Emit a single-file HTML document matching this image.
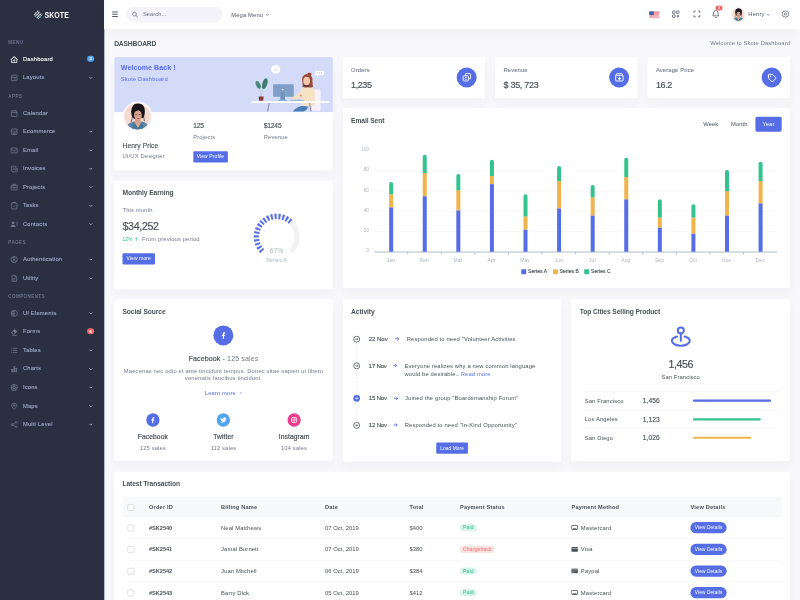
<!DOCTYPE html>
<html lang="en">
<head>
<meta charset="utf-8">
<title>Dashboard | Skote</title>
<style>
*{box-sizing:border-box}
html,body{margin:0;padding:0}
body{width:800px;height:600px;overflow:hidden;background:#f8f8fb;font-family:"Liberation Sans",sans-serif}
#root{position:absolute;left:-10px;top:-10px;width:1968px;height:1488px;transform:scale(0.4166667);transform-origin:0 0;overflow:hidden;background:#f8f8fb;filter:blur(.7px);
 font-family:"Liberation Sans",sans-serif;font-size:14px;letter-spacing:.3px;line-height:19.5px;color:#495057}
#page{position:absolute;left:24px;top:24px;width:1920px;height:1440px}
.bleed{position:absolute}
h4,h5,h3,p,ul,ol{margin:0;padding:0}
ul{list-style:none}
svg{display:block}
/* sidebar */
#side{position:absolute;left:0;top:0;width:250px;height:1440px;background:#2a3042}
#logo{position:absolute;left:0;top:0;width:250px;height:70px}
#menu{position:absolute;left:0;top:80px;width:250px}
.mt{padding:12.500px 20px 11.500px;height:40.5px;font-size:11px;line-height:16.5px;letter-spacing:.9px;color:#6a7187;font-weight:bold;text-transform:uppercase}
.mi{position:relative;height:44.420px;padding:10px 24px;color:#a6b0cf;font-size:14px;line-height:24.5px;white-space:nowrap}
.mi svg{position:absolute;left:24px;top:12px;width:20px;height:20px;fill:#6a7187}
.mi span.t{position:absolute;left:55px;top:8.5px;letter-spacing:.4px;-webkit-text-stroke:.2px currentColor}
.mi.act{color:#fff}
.mi.act svg{fill:#fff}
.mi .arr{position:absolute;left:211px;top:18px;width:10px;height:8px;fill:none;stroke:#a6b0cf;stroke-width:2.1}
.mi .bdg{position:absolute;right:24px;top:13px;height:14.6px;border-radius:10px;padding:0 6px;font-size:9.75px;line-height:14.6px;color:#fff;font-weight:bold;letter-spacing:0}
/* topbar */
#top{position:absolute;left:250px;top:0;width:1670px;height:70px;background:#fff;box-shadow:0 12px 24px rgba(18,38,63,.03)}
#top .abs{position:absolute}
/* content */
.card{position:absolute;background:#fff;border-radius:4px;box-shadow:0 12px 24px rgba(18,38,63,.03)}
.ct{position:absolute;font-size:16px;font-weight:bold;line-height:18px;color:#495057;letter-spacing:-.2px;margin-top:-.5px;white-space:nowrap}
.a{position:absolute;white-space:nowrap}
.mut{color:#74788d}
.h5{font-size:16px;line-height:18px;color:#495057;letter-spacing:.2px}
.btn{position:absolute;background:#556ee6;color:#fff;border-radius:3px;font-size:12px;line-height:17px;padding:5px 8px;letter-spacing:.25px;white-space:nowrap;text-align:center}
.pri{color:#556ee6}
.med{-webkit-text-stroke:.3px currentColor}
.med2{-webkit-text-stroke:.45px currentColor}
</style>
</head>
<body>
<div id="root">
<div id="page">
<div class="bleed" style="left:-24px;top:-24px;width:274px;height:1488px;background:#2a3042"></div>
<div class="bleed" style="left:250px;top:-24px;width:1694px;height:94px;background:#fff"></div>
<!-- SIDEBAR -->
<div id="side">
<div id="logo">
<svg class="a" style="left:80px;top:24px" width="23" height="23" viewBox="0 0 23 23"><defs><clipPath id="lgc"><path d="M11.500 .8 22.200 11.500 11.500 22.200 .8 11.500z"/></clipPath></defs><g clip-path="url(#lgc)"><g stroke="#fff" stroke-width="2.400"><path d="M-2 9 9-2M-2 15.500 15.500-2M1 19 19 1M4.500 22.500 22.500 4.500M8 25 25 8M14 25 25 14"/></g><g stroke="#2a3042" stroke-width="1.300"><path d="M5 3l15 15M1.500 6.500l15 15M9 0l15 15M-2 10l12 12"/></g></g><circle cx="5.500" cy="5.800" r="1.300" fill="#3bb6c4"/><circle cx="17.500" cy="17.200" r="1.300" fill="#3bb6c4"/><circle cx="3.500" cy="15" r="1.100" fill="#3bb6c4"/></svg>
<div class="a" style="left:107px;top:22px;font-size:21.5px;line-height:26px;font-weight:bold;color:#fff;letter-spacing:.2px;transform:scaleX(.775);transform-origin:0 0">SKOTE</div>
</div>
<div id="menu">
<div class="mt">Menu</div>
<div class="mi act"><svg viewBox="0 0 24 24" style="color:#fff"><g fill="none" stroke="currentColor" stroke-width="2.250" stroke-linejoin="round"><path d="M4.5 11.5 12 4l7.5 7.5V20.5h-15z"/><path d="M2.5 12.5 12 3l9.5 9.5"/><circle cx="12" cy="14.5" r="2.2"/></g></svg><span class="t">Dashboard</span><span class="bdg" style="background:#50a5f1">3</span></div>
<div class="mi "><svg viewBox="0 0 24 24" style="color:#70778e"><g fill="none" stroke="currentColor" stroke-width="2.250"><rect x="4" y="4" width="16" height="16" rx="1.5"/><path d="M4 10h16M14 10v10"/></g></svg><span class="t">Layouts</span><svg class="arr" viewBox="0 0 10 8" style="left:213px;top:18px;width:10px;height:8px;fill:none"><path d="M1.500 2l3.500 3.500L8.500 2"/></svg></div>
<div class="mt">Apps</div>
<div class="mi "><svg viewBox="0 0 24 24" style="color:#70778e"><g fill="none" stroke="currentColor" stroke-width="2.250"><rect x="4" y="5" width="16" height="16" rx="1.5"/><path d="M4 9.5h16M8 2.5v4M16 2.5v4"/></g></svg><span class="t">Calendar</span></div>
<div class="mi "><svg viewBox="0 0 24 24" style="color:#70778e"><g fill="none" stroke="currentColor" stroke-width="2.250"><rect x="4" y="4" width="16" height="16" rx="1.5"/><path d="M4 9.5c1.3 2 4 2 5.33 0 1.33 2 4 2 5.34 0 1.33 2 4 2 5.33 0M9 20v-4.5h6V20"/></g></svg><span class="t">Ecommerce</span><svg class="arr" viewBox="0 0 10 8" style="left:213px;top:18px;width:10px;height:8px;fill:none"><path d="M1.500 2l3.500 3.500L8.500 2"/></svg></div>
<div class="mi "><svg viewBox="0 0 24 24" style="color:#70778e"><g fill="none" stroke="currentColor" stroke-width="2.250"><rect x="3" y="5" width="18" height="14" rx="1.5"/><path d="m3.5 7.5 8.5 6.5 8.500-6.500"/></g></svg><span class="t">Email</span><svg class="arr" viewBox="0 0 10 8" style="left:213px;top:18px;width:10px;height:8px;fill:none"><path d="M1.500 2l3.500 3.500L8.500 2"/></svg></div>
<div class="mi "><svg viewBox="0 0 24 24" style="color:#70778e"><g fill="none" stroke="currentColor" stroke-width="2.250" stroke-linejoin="round"><path d="M5 4v14.5A2.5 2.500 0 0 0 7.500 21H18.500A2.500 2.500 0 0 0 21 18.500V12h-4V4l-2 1-2-1-2 1-2-1-2 1z"/><path d="M17 12v7M8.5 10h5M8.500 14h5"/></g></svg><span class="t">Invoices</span><svg class="arr" viewBox="0 0 10 8" style="left:213px;top:18px;width:10px;height:8px;fill:none"><path d="M1.500 2l3.500 3.500L8.500 2"/></svg></div>
<div class="mi "><svg viewBox="0 0 24 24" style="color:#70778e"><g fill="none" stroke="currentColor" stroke-width="2.250"><rect x="3" y="7" width="18" height="13" rx="1.5"/><path d="M8.5 7V4h7v3M3 12.500h18M10 12.500v2.500h4v-2.500"/></g></svg><span class="t">Projects</span><svg class="arr" viewBox="0 0 10 8" style="left:213px;top:18px;width:10px;height:8px;fill:none"><path d="M1.500 2l3.500 3.500L8.500 2"/></svg></div>
<div class="mi "><svg viewBox="0 0 24 24" style="color:#70778e"><g fill="none" stroke="currentColor" stroke-width="2.250"><rect x="4" y="4" width="16" height="17" rx="1.5"/><path d="M8 4V2.5h8V4M8.500 13l2.500 2.500 4.500-4.500"/></g></svg><span class="t">Tasks</span><svg class="arr" viewBox="0 0 10 8" style="left:213px;top:18px;width:10px;height:8px;fill:none"><path d="M1.500 2l3.500 3.500L8.500 2"/></svg></div>
<div class="mi "><svg viewBox="0 0 24 24" style="color:#70778e"><g fill="currentColor"><circle cx="9" cy="8" r="4"/><path d="M2 20c0-4 3-6.500 7-6.500s7 2.500 7 6.500z"/><path d="M17 7h5v2h-5zM18 11h4v2h-4zM19 15h3v2h-3z"/></g></svg><span class="t">Contacts</span><svg class="arr" viewBox="0 0 10 8" style="left:213px;top:18px;width:10px;height:8px;fill:none"><path d="M1.500 2l3.500 3.500L8.500 2"/></svg></div>
<div class="mt">Pages</div>
<div class="mi "><svg viewBox="0 0 24 24" style="color:#70778e"><g fill="none" stroke="currentColor" stroke-width="2.250"><circle cx="12" cy="12" r="9"/><circle cx="12" cy="9.5" r="3"/><path d="M6 18.500c1.500-2.500 3.500-3.500 6-3.500s4.500 1 6 3.500"/></g></svg><span class="t">Authentication</span><svg class="arr" viewBox="0 0 10 8" style="left:213px;top:18px;width:10px;height:8px;fill:none"><path d="M1.500 2l3.500 3.500L8.500 2"/></svg></div>
<div class="mi "><svg viewBox="0 0 24 24" style="color:#70778e"><g fill="none" stroke="currentColor" stroke-width="2.250" stroke-linejoin="round"><path d="M6 3h8l5 5v13H6zM14 3v5h5M9 13h6M9 17h6"/></g></svg><span class="t">Utility</span><svg class="arr" viewBox="0 0 10 8" style="left:213px;top:18px;width:10px;height:8px;fill:none"><path d="M1.500 2l3.500 3.500L8.500 2"/></svg></div>
<div class="mt">Components</div>
<div class="mi "><svg viewBox="0 0 24 24" style="color:#70778e"><g fill="none" stroke="currentColor" stroke-width="2.250"><circle cx="12" cy="12" r="9"/><path d="M12 3v18M12 7.500H4.500M12 12H3M12 16.500H4.500"/></g></svg><span class="t">UI Elements</span><svg class="arr" viewBox="0 0 10 8" style="left:213px;top:18px;width:10px;height:8px;fill:none"><path d="M1.500 2l3.500 3.500L8.500 2"/></svg></div>
<div class="mi "><svg viewBox="0 0 24 24" style="color:#70778e"><g><path fill="currentColor" d="M13.500 3 21 10.500 12.500 19H8l-5-5z"/><path fill="none" stroke="currentColor" stroke-width="2.250" d="M7 21.500h14"/><path fill="#2a3042" d="M6 14l4-4 4 4-3.500 3.500H9.500z"/></g></svg><span class="t">Forms</span><span class="bdg" style="background:#f46a6a">6</span></div>
<div class="mi "><svg viewBox="0 0 24 24" style="color:#70778e"><g fill="none" stroke="currentColor" stroke-width="2.250"><path d="M8 6h13M8 12h13M8 18h13M3 6h2M3 12h2M3 18h2"/></g></svg><span class="t">Tables</span><svg class="arr" viewBox="0 0 10 8" style="left:213px;top:18px;width:10px;height:8px;fill:none"><path d="M1.500 2l3.500 3.500L8.500 2"/></svg></div>
<div class="mi "><svg viewBox="0 0 24 24" style="color:#70778e"><g fill="currentColor"><rect x="4" y="11" width="4" height="10" rx="1"/><rect x="10" y="3" width="4" height="18" rx="1"/><rect x="16" y="8" width="4" height="13" rx="1"/></g></svg><span class="t">Charts</span><svg class="arr" viewBox="0 0 10 8" style="left:213px;top:18px;width:10px;height:8px;fill:none"><path d="M1.500 2l3.500 3.500L8.500 2"/></svg></div>
<div class="mi "><svg viewBox="0 0 24 24" style="color:#70778e"><g fill="none" stroke="currentColor" stroke-width="2.250"><circle cx="12" cy="12" r="9"/><circle cx="12" cy="12" r="3.500"/><path d="M12 3l2.500 6M21 12l-6 .8M16.500 19.800l-3.500-5M7.500 19.800l2-5.500M3 12l6-.8M7.500 4.200l3.500 5"/></g></svg><span class="t">Icons</span><svg class="arr" viewBox="0 0 10 8" style="left:213px;top:18px;width:10px;height:8px;fill:none"><path d="M1.500 2l3.500 3.500L8.500 2"/></svg></div>
<div class="mi "><svg viewBox="0 0 24 24" style="color:#70778e"><g fill="none" stroke="currentColor" stroke-width="2.250"><path d="M12 21.500S5 15 5 10a7 7 0 0 1 14 0c0 5-7 11.500-7 11.500z"/><circle cx="12" cy="10" r="2.500"/></g></svg><span class="t">Maps</span><svg class="arr" viewBox="0 0 10 8" style="left:213px;top:18px;width:10px;height:8px;fill:none"><path d="M1.500 2l3.500 3.500L8.500 2"/></svg></div>
<div class="mi "><svg viewBox="0 0 24 24" style="color:#70778e"><g fill="none" stroke="currentColor" stroke-width="2.250"><circle cx="6" cy="12" r="2.500"/><circle cx="18" cy="5.500" r="2.500"/><circle cx="18" cy="18.500" r="2.500"/><path d="M8.200 10.800l7.600-4.100M8.200 13.200l7.600 4.100"/></g></svg><span class="t">Multi Level</span><svg class="arr" viewBox="0 0 10 8" style="left:213px;top:18px;width:10px;height:8px;fill:none"><path d="M1.500 2l3.500 3.500L8.500 2"/></svg></div>
</div>
</div>
<!-- TOPBAR -->
<div id="top">
 <svg class="abs" style="left:19px;top:26px" width="14" height="16" viewBox="0 0 14 16"><g fill="#555b6d"><rect x="0" y="1.500" width="14" height="2.400" rx=".6"/><rect x="0" y="6.800" width="14" height="2.400" rx=".6"/><rect x="0" y="12.100" width="14" height="2.400" rx=".6"/></g></svg>
 <div class="abs" style="left:53px;top:16px;width:231px;height:38px;border-radius:30px;background:#f3f3f9"></div>
 <svg class="abs" style="left:66px;top:27px" width="16" height="16" viewBox="0 0 16 16"><circle cx="6.800" cy="6.800" r="4.600" fill="none" stroke="#74788d" stroke-width="1.800"/><path d="M10.200 10.200l4 4" stroke="#74788d" stroke-width="2" stroke-linecap="round"/></svg>
 <div class="abs" style="left:93px;top:23.500px;color:#74788d;font-size:14px;line-height:20px;letter-spacing:0">Search...</div>
 <div class="abs" style="left:305px;top:25px;color:#555b6d;font-size:14px;line-height:20px">Mega Menu</div>
 <svg class="abs" style="left:387px;top:32px" width="9" height="7" viewBox="0 0 9 7"><path d="M1.200 1.500 4.500 5l3.300-3.500" fill="none" stroke="#555b6d" stroke-width="1.600"/></svg>

 <!-- flag -->
 <svg class="abs" style="left:1308px;top:27px" width="25" height="17" viewBox="0 0 25 17"><rect width="25" height="17" fill="#fff"/><g fill="#e0525c"><rect y="0" width="25" height="1.400"/><rect y="2.600" width="25" height="1.400"/><rect y="5.200" width="25" height="1.400"/><rect y="7.800" width="25" height="1.400"/><rect y="10.400" width="25" height="1.400"/><rect y="13" width="25" height="1.400"/><rect y="15.600" width="25" height="1.400"/></g><rect width="11" height="9.200" fill="#4a5aa8"/></svg>
 <!-- customize -->
 <svg class="abs" style="left:1361px;top:23px" width="22" height="22" viewBox="0 0 24 24"><g fill="none" stroke="#555b6d" stroke-width="2"><rect x="3.500" y="3.500" width="6.500" height="6.500" rx="1"/><rect x="14" y="3.500" width="6.500" height="6.500" rx="1"/><rect x="3.500" y="14" width="6.500" height="6.500" rx="1"/><path d="M17.200 13.500v7.500M13.500 17.200h7.500"/></g></svg>
 <!-- fullscreen -->
 <svg class="abs" style="left:1411.500px;top:23px" width="21" height="21" viewBox="0 0 24 24"><g fill="none" stroke="#555b6d" stroke-width="2.200"><path d="M4 9V4h5M15 4h5v5M20 15v5h-5M9 20H4v-5"/></g></svg>
 <!-- bell -->
 <svg class="abs" style="left:1457px;top:22px" width="22" height="23" viewBox="0 0 24 25"><g fill="none" stroke="#555b6d" stroke-width="2" stroke-linejoin="round"><path d="M12 3.500a6 6 0 0 0-6 6V14l-2 3.500h16L18 14V9.500a6 6 0 0 0-6-6z"/><path d="M9.500 20.500a2.600 2.600 0 0 0 5 0"/></g></svg>
 <div class="abs" style="left:1467px;top:13px;height:12px;min-width:17px;border-radius:8px;background:#f46a6a;color:#fff;font-size:9px;line-height:12px;font-weight:bold;text-align:center;letter-spacing:0">3</div>
 <!-- avatar -->
 <svg class="abs" style="left:1504px;top:16.500px" width="36" height="36" viewBox="0 0 72 72"><defs><clipPath id="avc"><circle cx="36" cy="36" r="30"/></clipPath></defs><circle cx="36" cy="36" r="36" fill="#f6f6f6"/><g clip-path="url(#avc)"><rect width="72" height="72" fill="#f7d9d0"/>
<path d="M21.500 31C19 16 26 4.500 37.500 4.500 48 4.500 55 13 53.500 27c-.3 6-2 10-4 13l-22 2c-3-3-5-6-6-11z" fill="#17151a"/>
<path d="M24 36c-1 6-2 10-3.500 14M50.500 34c1 6 1 10 2.500 14" stroke="#2a2226" stroke-width="1.600" fill="none"/>
<path d="M30 43h13v12H30z" fill="#c98f79"/>
<ellipse cx="37" cy="33.500" rx="9.300" ry="12.800" fill="#d7a28c" transform="rotate(-7 37 33.500)"/>
<path d="M25.500 29c2-9 8-13 14.500-12 5 1 8.500 5 9.500 11-4-5-8-7-12.500-6s-8 3.500-11.500 7z" fill="#17151a"/>
<ellipse cx="32.800" cy="32.500" rx="2.300" ry="1.100" fill="#33262a"/><ellipse cx="41.300" cy="31.800" rx="2.300" ry="1.100" fill="#33262a"/>
<ellipse cx="37.800" cy="41.300" rx="2.600" ry="1.300" fill="#b5524c"/>
<path d="M27 49l10 15 10-15-4-2H31z" fill="#d7a58f"/>
<path d="M6 72c0-13 9-20 21-23.500L37 64l10-15.500C59 52 66 59 66 72z" fill="#5b86a6"/>
<path d="M27 48.500 37 64l-3 8H22zM47 48.500 37 64l3 8h12z" fill="#4a7595"/></g></svg>
 <div class="abs" style="left:1546px;top:24px;color:#555b6d;font-size:14px;line-height:20px">Henry</div>
 <svg class="abs" style="left:1589px;top:32px" width="9" height="7" viewBox="0 0 9 7"><path d="M1.200 1.500 4.500 5l3.300-3.500" fill="none" stroke="#555b6d" stroke-width="1.500"/></svg>
 <!-- gear -->
 <svg class="abs" style="left:1625px;top:23px" width="20" height="21" viewBox="0 0 24 24"><g fill="none" stroke="#555b6d" stroke-width="2.100" stroke-linejoin="round"><path d="M12 2.500l2.400 1.700 2.900-.3 1.200 2.700 2.600 1.300-.5 2.900L22 12l-1.400 1.200.5 2.900-2.600 1.300-1.200 2.700-2.900-.3L12 21.500l-2.400-1.700-2.900.3-1.200-2.700-2.600-1.300.5-2.900L2 12l1.400-1.200-.5-2.900 2.600-1.300 1.200-2.700 2.900.3z"/><circle cx="12" cy="12" r="3.200"/></g></svg>
</div>
<!-- PAGE TITLE -->
<div class="a" style="left:274px;top:95px;font-size:16px;line-height:19px;font-weight:bold;letter-spacing:-.35px;color:#495057">DASHBOARD</div>
<div class="a" style="right:24px;top:94px;font-size:14px;line-height:19px;color:#74788d;letter-spacing:.22px">Welcome to Skote Dashboard</div>
<!-- WELCOME CARD -->
<div class="card" style="left:274px;top:137px;width:524.7px;height:272px;overflow:hidden">
 <div class="a" style="left:0;top:0;width:100%;height:132px;background:#d4dbf9"></div>
 <div class="a pri" style="left:16px;top:16px;font-size:17px;line-height:19.5px;letter-spacing:.1px;font-weight:bold">Welcome Back !</div>
 <div class="a pri" style="left:16px;top:43.500px">Skote Dashboard</div>
 <!-- illustration -->
 <svg class="a" style="left:321.700px;top:1.400px" width="206" height="130.900" viewBox="0 0 170 108">
  <circle cx="54.200" cy="23.500" r="8.900" fill="#fff"/><path d="M50.500 24.500l3 2.500 5-6" fill="none" stroke="#c5cdf0" stroke-width="1.500"/>
  <path d="M134.500 26h13a2.500 2.500 0 0 1 2.500 2.500v4a2.500 2.500 0 0 1-2.500 2.500h-8l-3.500 3.500V35h-1.500a2.500 2.500 0 0 1-2.500-2.500v-4a2.500 2.500 0 0 1 2.500-2.500z" fill="#fff"/><g fill="#b4bde8"><circle cx="136.800" cy="30.500" r="1.200"/><circle cx="141" cy="30.500" r="1.200"/><circle cx="145.200" cy="30.500" r="1.200"/></g>
  <!-- chair -->
  <rect x="126" y="63.500" width="17" height="42" rx="3" fill="#f6f2fb"/>
  <!-- jeans -->
  <path d="M88 107c5-7 12-11 22-11.500l9 1.500-4 7-6 3z" fill="#4a7fb4"/>
  <!-- body -->
  <path d="M103.500 66c1-6 6-8.500 13-8.500s14 3 15 10l.5 26c-8 4-20 4-27 .5z" fill="#f5e2c4"/>
  <path d="M105 66c-6 5-12 11-21 15.500l1 3.500c9-1 17-4 24-9z" fill="#f5e2c4"/>
  <circle cx="104" cy="75.500" r="2" fill="#ea8f78"/>
  <!-- hair / head -->
  <path d="M106.500 44c0-7 4.500-11 10-11.500 1.500-3 7.500-3.500 8.500-.5 1 2-1 3-1.500 3.500 3.500 3 4 8 3.500 12l1 11c-4 1.500-7 1.500-10 .2-4 1-7 .8-11-.2 1.500-4 .2-9-.5-14.500z" fill="#9b4a3b"/>
  <ellipse cx="115.500" cy="46.500" rx="6.600" ry="8.300" fill="#f3c6ae"/>
  <path d="M108 42c3-5 10-6.500 15-2l1-4c-5-4-13-3-16 3z" fill="#9b4a3b"/>
  <path d="M110 53.500c3 3 8 3 11 0v2.500c-3 3-8 3-11 0z" fill="#3f3140"/>
  <!-- desk -->
  <rect x="6" y="86.500" width="154" height="3.500" rx="1.700" fill="#fff"/>
  <path d="M41.500 90l-3.500 17M121.500 90l2.500 17" stroke="#6e6a84" stroke-width="1.500"/>
  <!-- monitor -->
  <rect x="49" y="53.200" width="41" height="24.500" rx="1.500" fill="#7f9fc9"/>
  <circle cx="68" cy="63.500" r="1.600" fill="#f4f6ff"/>
  <path d="M64 68h8l.8 16h-9.600z" fill="#7093c0"/><rect x="59" y="83.600" width="18" height="2.400" rx="1" fill="#8fb0d6"/>
  <rect x="83" y="83.600" width="27" height="2.200" rx="1" fill="#8fb0d6"/>
  <!-- plant -->
  <path d="M25.300 78C25 70 23 64 20.500 60M25.600 78c.4-8 3-15 6.500-20" stroke="#b5c9cf" stroke-width="1.300" fill="none"/>
  <ellipse cx="19.600" cy="54.200" rx="4.400" ry="8.200" transform="rotate(-24 19.600 54.200)" fill="#4f8a7e"/>
  <ellipse cx="32.700" cy="51.700" rx="4.900" ry="11.200" transform="rotate(17 32.700 51.700)" fill="#3f7a6f"/>
  <path d="M20.400 77.200h10l-1 8.300h-8z" fill="#8a3b36"/>
 </svg>
 <!-- avatar -->
 <svg class="a" style="left:20px;top:106px" width="72" height="72" viewBox="0 0 72 72"><defs><clipPath id="avc2"><circle cx="36" cy="36" r="31.500"/></clipPath></defs><circle cx="36" cy="36" r="35.500" fill="#f8f8fb" stroke="#f1f1f4" stroke-width="1"/><g clip-path="url(#avc2)"><rect width="72" height="72" fill="#f7d9d0"/>
<path d="M21.500 31C19 16 26 4.500 37.500 4.500 48 4.500 55 13 53.500 27c-.3 6-2 10-4 13l-22 2c-3-3-5-6-6-11z" fill="#17151a"/>
<path d="M24 36c-1 6-2 10-3.500 14M50.500 34c1 6 1 10 2.500 14" stroke="#2a2226" stroke-width="1.600" fill="none"/>
<path d="M30 43h13v12H30z" fill="#c98f79"/>
<ellipse cx="37" cy="33.500" rx="9.300" ry="12.800" fill="#d7a28c" transform="rotate(-7 37 33.500)"/>
<path d="M25.500 29c2-9 8-13 14.500-12 5 1 8.500 5 9.500 11-4-5-8-7-12.500-6s-8 3.500-11.500 7z" fill="#17151a"/>
<ellipse cx="32.800" cy="32.500" rx="2.300" ry="1.100" fill="#33262a"/><ellipse cx="41.300" cy="31.800" rx="2.300" ry="1.100" fill="#33262a"/>
<ellipse cx="37.800" cy="41.300" rx="2.600" ry="1.300" fill="#b5524c"/>
<path d="M27 49l10 15 10-15-4-2H31z" fill="#d7a58f"/>
<path d="M6 72c0-13 9-20 21-23.500L37 64l10-15.500C59 52 66 59 66 72z" fill="#5b86a6"/>
<path d="M27 48.500 37 64l-3 8H22zM47 48.500 37 64l3 8h12z" fill="#4a7595"/></g></svg>
 <div class="a h5 med" style="left:20px;top:202.500px;font-size:16px">Henry Price</div>
 <div class="a mut" style="left:20px;top:228.500px">UI/UX Designer</div>
 <div class="a h5 med" style="left:189.600px;top:156.500px;letter-spacing:-.5px">125</div>
 <div class="a mut" style="left:189.600px;top:182.500px">Projects</div>
 <div class="a h5 med" style="left:359px;top:156.500px;letter-spacing:-.4px">$1245</div>
 <div class="a mut" style="left:359px;top:182.500px">Revenue</div>
 <div class="btn" style="left:189.600px;top:226px;width:83px;height:27px">View Profile</div>
</div>
<!-- MONTHLY EARNING -->
<div class="card" style="left:274px;top:433px;width:524.7px;height:261.800px">
 <div class="ct" style="left:20px;top:20px">Monthly Earning</div>
 <div class="a mut" style="left:20px;top:62px">This month</div>
 <div class="a" style="left:20px;top:97px;font-size:25.500px;line-height:28px;color:#495057;letter-spacing:-.75px;-webkit-text-stroke:.4px #495057">$34,252</div>
 <div class="a" style="left:20px;top:132px;color:#34c38f;font-size:12px;letter-spacing:-.2px">12% <svg style="display:inline-block;vertical-align:-1px;margin-left:2px" width="9" height="10" viewBox="0 0 9 10"><path d="M4.500 9.500V1.500M1 5l3.500-3.500L8 5" fill="none" stroke="#34c38f" stroke-width="1.400"/></svg></div>
 <div class="a mut" style="left:67px;top:132px">From previous period</div>
 <div class="btn" style="left:20px;top:175px;width:78px;height:27px">View more</div>
 <!-- radial -->
 <svg class="a" style="left:319.600px;top:65.400px" width="140" height="140" viewBox="-70 -70 140 140">
  <path id="trk" d="M-34.650 34.650A49 49 0 1 1 34.650 34.650" fill="none" stroke="#f2f2f2" stroke-width="13"/>
  <path d="M-34.650 34.650A49 49 0 0 1 35.250 -34.040" fill="none" stroke="#556ee6" stroke-width="13" stroke-dasharray="4.700 4.400"/>
 </svg>
 <div class="a" style="left:339.600px;top:158.500px;width:100px;text-align:center;font-size:16px;color:#adb5bd;letter-spacing:0">67%</div>
 <div class="a" style="left:339.600px;top:182px;width:100px;text-align:center;font-size:13px;color:#adb5bd">Series A</div>
</div>
<!-- STAT CARDS -->
<div class="card" style="left:822.700px;top:137px;width:341.800px;height:99px">
 <div class="a mut" style="left:20px;top:20.700px;-webkit-text-stroke:.2px #74788d">Orders</div>
 <div class="a" style="left:20px;top:54px;font-size:21.500px;line-height:24px;letter-spacing:-1px;color:#495057;-webkit-text-stroke:.4px #495057">1,235</div>
 <div class="a" style="left:273.800px;top:24.800px;width:48px;height:48px;border-radius:50%;background:#556ee6"></div>
 <svg class="a" style="left:285.300px;top:36px" width="25" height="25" viewBox="0 0 24 24"><g fill="none" stroke="#fff" stroke-width="2.100" stroke-linejoin="round"><rect x="3.500" y="8.500" width="12" height="12" rx="1.500"/><path d="M8.500 8.500V5A1.500 1.500 0 0 1 10 3.500h9A1.500 1.500 0 0 1 20.500 5v9a1.500 1.500 0 0 1-1.500 1.500h-3.500"/><path d="M7 12.500h5M7 16.500h5" stroke-width="1.800"/></g></svg>
</div>
<div class="card" style="left:1188.400px;top:137px;width:341.800px;height:99px">
 <div class="a mut" style="left:20px;top:20.700px;-webkit-text-stroke:.2px #74788d">Revenue</div>
 <div class="a" style="left:20px;top:54px;font-size:21.500px;line-height:24px;letter-spacing:-.65px;color:#495057;-webkit-text-stroke:.4px #495057">$ 35, 723</div>
 <div class="a" style="left:273.800px;top:24.800px;width:48px;height:48px;border-radius:50%;background:#556ee6"></div>
 <svg class="a" style="left:285.300px;top:35.500px" width="25" height="25" viewBox="0 0 24 24"><g fill="none" stroke="#fff" stroke-width="2.200" stroke-linejoin="round"><rect x="3.500" y="7.500" width="17" height="13" rx="1.500"/><path d="M3.500 7.500 6 3.500h12l2.500 4"/><path d="M12 10.500v6M9 13.800l3 3 3-3" stroke-width="2.400"/></g></svg>
</div>
<div class="card" style="left:1554.200px;top:137px;width:341.800px;height:99px">
 <div class="a mut" style="left:20px;top:20.700px;-webkit-text-stroke:.2px #74788d">Average Price</div>
 <div class="a" style="left:20px;top:54px;font-size:21.500px;line-height:24px;letter-spacing:-.9px;color:#495057;-webkit-text-stroke:.4px #495057">16.2</div>
 <div class="a" style="left:273.800px;top:24.800px;width:48px;height:48px;border-radius:50%;background:#556ee6"></div>
 <svg class="a" style="left:285.300px;top:36px" width="25" height="25" viewBox="0 0 24 24"><g transform="rotate(45 12 12)" fill="none" stroke="#fff" stroke-width="2.100" stroke-linejoin="round"><path d="M9 5.500h11a1 1 0 0 1 1 1v11a1 1 0 0 1-1 1H9l-5.500-5a2 2 0 0 1 0-3z"/><circle cx="8.500" cy="12" r="1" fill="#fff"/></g></svg>
</div>
<!-- EMAIL SENT CHART -->
<div class="card" style="left:822.7px;top:260.0px;width:1073.300px;height:431.200px">
<div class="ct" style="left:20px;top:20px">Email Sent</div>
<div class="a" style="left:865px;top:28px;color:#495057;font-size:14px;letter-spacing:.1px">Week</div>
<div class="a" style="left:932px;top:28px;color:#495057;font-size:14px;letter-spacing:.1px">Month</div>
<div class="a" style="left:990px;top:20px;width:63px;height:35.500px;border-radius:4px;background:#556ee6;color:#fff;text-align:center;line-height:35.500px;font-size:14px;letter-spacing:.1px">Year</div>
<svg class="a" style="left:0;top:0" width="1073" height="431" viewBox="0 0 1073 431">
<path d="M74.9 295.7H1042.1" stroke="#f1f1f3" stroke-width="1"/>
<path d="M74.9 247.2H1042.1" stroke="#f1f1f3" stroke-width="1"/>
<path d="M74.9 198.8H1042.1" stroke="#f1f1f3" stroke-width="1"/>
<path d="M74.9 150.3H1042.1" stroke="#f1f1f3" stroke-width="1"/>
<path d="M74.9 101.8H1042.1" stroke="#f1f1f3" stroke-width="1"/>
<path d="M74.9 344.9H1042.1" stroke="#78909c" stroke-width="1.400"/>
<path d="M155.5 345.2v6.500" stroke="#78909c" stroke-width="1.100"/>
<path d="M236.1 345.2v6.500" stroke="#78909c" stroke-width="1.100"/>
<path d="M316.7 345.2v6.500" stroke="#78909c" stroke-width="1.100"/>
<path d="M397.3 345.2v6.500" stroke="#78909c" stroke-width="1.100"/>
<path d="M477.9 345.2v6.500" stroke="#78909c" stroke-width="1.100"/>
<path d="M558.5 345.2v6.500" stroke="#78909c" stroke-width="1.100"/>
<path d="M639.1 345.2v6.500" stroke="#78909c" stroke-width="1.100"/>
<path d="M719.7 345.2v6.500" stroke="#78909c" stroke-width="1.100"/>
<path d="M800.3 345.2v6.500" stroke="#78909c" stroke-width="1.100"/>
<path d="M880.9 345.2v6.500" stroke="#78909c" stroke-width="1.100"/>
<path d="M961.5 345.2v6.500" stroke="#78909c" stroke-width="1.100"/>
<rect x="111.0" y="237.5" width="9.6" height="106.7" fill="#556ee6"/>
<rect x="111.0" y="206.0" width="9.6" height="31.5" fill="#f1b44c"/>
<path d="M111.0 206.0V181.7a4.8 4.8 0 0 1 9.6 0V206.0z" fill="#34c38f"/>
<rect x="191.6" y="210.9" width="9.6" height="133.3" fill="#556ee6"/>
<rect x="191.6" y="155.1" width="9.6" height="55.8" fill="#f1b44c"/>
<path d="M191.6 155.1V116.2a4.8 4.8 0 0 1 9.6 0V155.1z" fill="#34c38f"/>
<rect x="272.2" y="244.8" width="9.6" height="99.4" fill="#556ee6"/>
<rect x="272.2" y="196.3" width="9.6" height="48.5" fill="#f1b44c"/>
<path d="M272.2 196.3V162.3a4.8 4.8 0 0 1 9.6 0V196.3z" fill="#34c38f"/>
<rect x="352.8" y="181.8" width="9.6" height="162.4" fill="#556ee6"/>
<rect x="352.8" y="162.4" width="9.6" height="19.4" fill="#f1b44c"/>
<path d="M352.8 162.4V128.3a4.8 4.8 0 0 1 9.6 0V162.4z" fill="#34c38f"/>
<rect x="433.4" y="290.9" width="9.6" height="53.3" fill="#556ee6"/>
<rect x="433.4" y="259.4" width="9.6" height="31.5" fill="#f1b44c"/>
<path d="M433.4 259.4V210.8a4.8 4.8 0 0 1 9.6 0V259.4z" fill="#34c38f"/>
<rect x="514.0" y="240.0" width="9.6" height="104.2" fill="#556ee6"/>
<rect x="514.0" y="174.5" width="9.6" height="65.4" fill="#f1b44c"/>
<path d="M514.0 174.5V142.9a4.8 4.8 0 0 1 9.6 0V174.5z" fill="#34c38f"/>
<rect x="594.6" y="256.9" width="9.6" height="87.3" fill="#556ee6"/>
<rect x="594.6" y="213.3" width="9.6" height="43.6" fill="#f1b44c"/>
<path d="M594.6 213.3V188.9a4.8 4.8 0 0 1 9.6 0V213.3z" fill="#34c38f"/>
<rect x="675.2" y="218.2" width="9.6" height="126.0" fill="#556ee6"/>
<rect x="675.2" y="164.8" width="9.6" height="53.3" fill="#f1b44c"/>
<path d="M675.2 164.8V123.5a4.8 4.8 0 0 1 9.6 0V164.8z" fill="#34c38f"/>
<rect x="755.8" y="286.0" width="9.6" height="58.2" fill="#556ee6"/>
<rect x="755.8" y="261.8" width="9.6" height="24.2" fill="#f1b44c"/>
<path d="M755.8 261.8V222.9a4.8 4.8 0 0 1 9.6 0V261.8z" fill="#34c38f"/>
<rect x="836.4" y="300.6" width="9.6" height="43.6" fill="#556ee6"/>
<rect x="836.4" y="261.8" width="9.6" height="38.8" fill="#f1b44c"/>
<path d="M836.4 261.8V235.0a4.8 4.8 0 0 1 9.6 0V261.8z" fill="#34c38f"/>
<rect x="917.0" y="256.9" width="9.6" height="87.3" fill="#556ee6"/>
<rect x="917.0" y="198.8" width="9.6" height="58.2" fill="#f1b44c"/>
<path d="M917.0 198.8V152.6a4.8 4.8 0 0 1 9.6 0V198.8z" fill="#34c38f"/>
<rect x="997.6" y="227.8" width="9.6" height="116.4" fill="#556ee6"/>
<rect x="997.6" y="174.5" width="9.6" height="53.3" fill="#f1b44c"/>
<path d="M997.6 174.5V133.2a4.8 4.8 0 0 1 9.6 0V174.5z" fill="#34c38f"/>
</svg>
<div class="a" style="left:14.9px;top:332.2px;width:48px;text-align:right;font-size:11.500px;line-height:18px;color:#adb5bd;letter-spacing:0">0</div>
<div class="a" style="left:14.9px;top:283.7px;width:48px;text-align:right;font-size:11.500px;line-height:18px;color:#adb5bd;letter-spacing:0">20</div>
<div class="a" style="left:14.9px;top:235.2px;width:48px;text-align:right;font-size:11.500px;line-height:18px;color:#adb5bd;letter-spacing:0">40</div>
<div class="a" style="left:14.9px;top:186.8px;width:48px;text-align:right;font-size:11.500px;line-height:18px;color:#adb5bd;letter-spacing:0">60</div>
<div class="a" style="left:14.9px;top:138.3px;width:48px;text-align:right;font-size:11.500px;line-height:18px;color:#adb5bd;letter-spacing:0">80</div>
<div class="a" style="left:14.9px;top:89.8px;width:48px;text-align:right;font-size:11.500px;line-height:18px;color:#adb5bd;letter-spacing:0">100</div>
<div class="a" style="left:85.2px;top:354.6px;width:60px;text-align:center;font-size:12px;line-height:18px;color:#adb5bd;letter-spacing:.1px">Jan</div>
<div class="a" style="left:165.8px;top:354.6px;width:60px;text-align:center;font-size:12px;line-height:18px;color:#adb5bd;letter-spacing:.1px">Feb</div>
<div class="a" style="left:246.4px;top:354.6px;width:60px;text-align:center;font-size:12px;line-height:18px;color:#adb5bd;letter-spacing:.1px">Mar</div>
<div class="a" style="left:327.0px;top:354.6px;width:60px;text-align:center;font-size:12px;line-height:18px;color:#adb5bd;letter-spacing:.1px">Apr</div>
<div class="a" style="left:407.6px;top:354.6px;width:60px;text-align:center;font-size:12px;line-height:18px;color:#adb5bd;letter-spacing:.1px">May</div>
<div class="a" style="left:488.2px;top:354.6px;width:60px;text-align:center;font-size:12px;line-height:18px;color:#adb5bd;letter-spacing:.1px">Jun</div>
<div class="a" style="left:568.8px;top:354.6px;width:60px;text-align:center;font-size:12px;line-height:18px;color:#adb5bd;letter-spacing:.1px">Jul</div>
<div class="a" style="left:649.4px;top:354.6px;width:60px;text-align:center;font-size:12px;line-height:18px;color:#adb5bd;letter-spacing:.1px">Aug</div>
<div class="a" style="left:730.0px;top:354.6px;width:60px;text-align:center;font-size:12px;line-height:18px;color:#adb5bd;letter-spacing:.1px">Sep</div>
<div class="a" style="left:810.6px;top:354.6px;width:60px;text-align:center;font-size:12px;line-height:18px;color:#adb5bd;letter-spacing:.1px">Oct</div>
<div class="a" style="left:891.2px;top:354.6px;width:60px;text-align:center;font-size:12px;line-height:18px;color:#adb5bd;letter-spacing:.1px">Nov</div>
<div class="a" style="left:971.8px;top:354.6px;width:60px;text-align:center;font-size:12px;line-height:18px;color:#adb5bd;letter-spacing:.1px">Dec</div>
<div class="a" style="left:428.8px;top:385.500px;width:12px;height:12px;border-radius:2px;background:#556ee6"></div>
<div class="a" style="left:444.8px;top:382.500px;font-size:12px;line-height:18px;color:#495057;letter-spacing:.15px;-webkit-text-stroke:.35px #495057">Series A</div>
<div class="a" style="left:504.3px;top:385.500px;width:12px;height:12px;border-radius:2px;background:#f1b44c"></div>
<div class="a" style="left:520.3px;top:382.500px;font-size:12px;line-height:18px;color:#495057;letter-spacing:.15px;-webkit-text-stroke:.35px #495057">Series B</div>
<div class="a" style="left:579.8px;top:385.500px;width:12px;height:12px;border-radius:2px;background:#34c38f"></div>
<div class="a" style="left:595.8px;top:382.500px;font-size:12px;line-height:18px;color:#495057;letter-spacing:.15px;-webkit-text-stroke:.35px #495057">Series C</div>
</div>
<!-- SOCIAL SOURCE -->
<div class="card" style="left:274px;top:719px;width:524.700px;height:386.200px">
 <div class="ct" style="left:20px;top:20px">Social Source</div>
 <div class="a" style="left:238.300px;top:62px;width:48px;height:48px;border-radius:50%;background:#556ee6"></div>
 <svg class="a" style="left:254.300px;top:76px" width="16" height="20" viewBox="0 0 16 20"><path d="M9.500 18v-7h2.400l.4-2.800H9.500V6.600c0-.8.300-1.400 1.500-1.400h1.400V2.700c-.3 0-1.100-.1-2.100-.1-2.100 0-3.500 1.300-3.500 3.600v2H4.500V11h2.300v7z" fill="#fff"/></svg>
 <div class="a" style="left:0;top:132.500px;width:100%;text-align:center;font-size:17px;line-height:20px;color:#495057;letter-spacing:.25px"><span class="med2">Facebook</span> - <span class="mut">125 sales</span></div>
 <div class="a mut" style="left:0;top:160.500px;width:100%;text-align:center;white-space:normal;padding:0 20px;letter-spacing:.33px">Maecenas nec odio et ante tincidunt tempus. Donec vitae sapien ut libero<br>venenatis faucibus tincidunt.</div>
 <div class="a pri" style="left:0;top:214.500px;width:100%;text-align:center">Learn more <svg style="display:inline-block;vertical-align:0;margin-left:5px" width="6" height="9" viewBox="0 0 6 9"><path d="M1.500 1.500l3 3-3 3" fill="none" stroke="#556ee6" stroke-width="1.300"/></svg></div>
 <!-- three -->
 <div class="a" style="left:76.800px;top:273px;width:32px;height:32px;border-radius:50%;background:#556ee6"></div>
 <svg class="a" style="left:85.300px;top:279.700px" width="15" height="18.500" viewBox="0 0 16 20"><path d="M9.500 18v-7h2.400l.4-2.800H9.500V6.600c0-.8.300-1.400 1.500-1.400h1.400V2.700c-.3 0-1.100-.1-2.100-.1-2.100 0-3.500 1.300-3.500 3.600v2H4.500V11h2.300v7z" fill="#fff"/></svg>
 <div class="a h5 med2" style="left:12.800px;top:321px;width:160px;text-align:center;font-size:16px;letter-spacing:.3px">Facebook</div>
 <div class="a mut" style="left:12.800px;top:347.500px;width:160px;text-align:center">125 sales</div>

 <div class="a" style="left:246.300px;top:273px;width:32px;height:32px;border-radius:50%;background:#50a5f1"></div>
 <svg class="a" style="left:253.800px;top:281.500px" width="17" height="15" viewBox="0 0 16 14"><path d="M15 2.300c-.5.200-1.100.400-1.700.500.600-.4 1.100-1 1.300-1.700-.6.300-1.200.600-1.900.700A2.900 2.900 0 0 0 7.600 4.500C5.200 4.400 3 3.200 1.600 1.400c-.800 1.400-.3 3 .9 3.900-.500 0-.900-.2-1.300-.4 0 1.400 1 2.700 2.400 2.900-.400.100-.900.100-1.300.100.400 1.200 1.500 2 2.700 2A6 6 0 0 1 .800 11c1.300.800 2.800 1.300 4.500 1.300 5.400 0 8.300-4.500 8.300-8.300v-.400c.600-.4 1-.9 1.400-1.300z" fill="#fff"/></svg>
 <div class="a h5 med2" style="left:182.300px;top:321px;width:160px;text-align:center;font-size:16px;letter-spacing:.3px">Twitter</div>
 <div class="a mut" style="left:182.300px;top:347.500px;width:160px;text-align:center">112 sales</div>

 <div class="a" style="left:415.700px;top:273px;width:32px;height:32px;border-radius:50%;background:#e83e8c"></div>
 <svg class="a" style="left:422.700px;top:280px" width="18" height="18" viewBox="0 0 16 16"><g fill="none" stroke="#fff" stroke-width="1.700"><rect x="2.500" y="2.500" width="11" height="11" rx="3"/><circle cx="8" cy="8" r="2.500"/></g><circle cx="11.300" cy="4.700" r=".8" fill="#fff"/></svg>
 <div class="a h5 med2" style="left:351.700px;top:321px;width:160px;text-align:center;font-size:16px;letter-spacing:.3px">Instagram</div>
 <div class="a mut" style="left:351.700px;top:347.500px;width:160px;text-align:center">104 sales</div>
</div>
<!-- ACTIVITY -->
<div class="card" style="left:822.700px;top:719px;width:524.700px;height:388.600px">
<div class="ct" style="left:20px;top:20px">Activity</div>
<div class="a" style="left:32px;top:96px;width:0;height:212px;border-left:3px dashed #f1f1f4"></div>
<svg class="a" style="left:24.3px;top:85.6px" width="18" height="18" viewBox="0 0 16 16"><circle cx="8" cy="8" r="6.400" fill="#fff" stroke="#495057" stroke-width="1.700"/><path d="M5 8h5.500M8.200 5.700 10.500 8 8.200 10.300" fill="none" stroke="#495057" stroke-width="1.500"/></svg>
<div class="a med" style="left:62.3px;top:83.1px;font-size:14.500px;line-height:19px;color:#495057;letter-spacing:-.1px;margin-top:2px">22 Nov</div>
<svg class="a" style="left:124.4px;top:88.1px" width="12" height="12" viewBox="0 0 11 11"><path d="M1 5.500h8.500M6 2l3.500 3.500L6 9" fill="none" stroke="#556ee6" stroke-width="1.800"/></svg>
<div class="a" style="left:153.4px;top:84.9px;color:#495057;letter-spacing:.33px">Responded to need "Volunteer Activities</div>
<svg class="a" style="left:24.3px;top:149.7px" width="18" height="18" viewBox="0 0 16 16"><circle cx="8" cy="8" r="6.400" fill="#fff" stroke="#495057" stroke-width="1.700"/><path d="M5 8h5.500M8.200 5.700 10.500 8 8.200 10.300" fill="none" stroke="#495057" stroke-width="1.500"/></svg>
<div class="a med" style="left:62.3px;top:147.2px;font-size:14.500px;line-height:19px;color:#495057;letter-spacing:-.5px;margin-top:2px">17 Nov</div>
<svg class="a" style="left:119.5px;top:152.2px" width="12" height="12" viewBox="0 0 11 11"><path d="M1 5.500h8.500M6 2l3.500 3.500L6 9" fill="none" stroke="#556ee6" stroke-width="1.800"/></svg>
<div class="a" style="left:147.9px;top:149.0px;color:#495057;letter-spacing:.33px">Everyone realizes why a new common language</div>
<div class="a" style="left:147.9px;top:168.5px;color:#495057;letter-spacing:.33px">would be desirable<span style="letter-spacing:-1.200px">...</span> <span class="pri">Read more</span></div>
<svg class="a" style="left:24.3px;top:228.4px" width="18" height="18" viewBox="0 0 16 16"><circle cx="8" cy="8" r="7.200" fill="#556ee6"/><path d="M4.500 8h6M8 5.500 10.500 8 8 10.500" fill="none" stroke="#fff" stroke-width="1.500"/></svg>
<div class="a med" style="left:62.3px;top:225.9px;font-size:14.500px;line-height:19px;color:#495057;letter-spacing:-.4px;margin-top:2px">15 Nov</div>
<svg class="a" style="left:121px;top:230.9px" width="12" height="12" viewBox="0 0 11 11"><path d="M1 5.500h8.500M6 2l3.500 3.500L6 9" fill="none" stroke="#556ee6" stroke-width="1.800"/></svg>
<div class="a" style="left:149.2px;top:227.7px;color:#495057;letter-spacing:.33px">Joined the group "Boardsmanship Forum"</div>
<svg class="a" style="left:24.3px;top:292.6px" width="18" height="18" viewBox="0 0 16 16"><circle cx="8" cy="8" r="6.400" fill="#fff" stroke="#495057" stroke-width="1.700"/><path d="M5 8h5.500M8.200 5.700 10.500 8 8.200 10.300" fill="none" stroke="#495057" stroke-width="1.500"/></svg>
<div class="a med" style="left:62.3px;top:290.1px;font-size:14.500px;line-height:19px;color:#495057;letter-spacing:-.4px;margin-top:2px">12 Nov</div>
<svg class="a" style="left:120.5px;top:295.1px" width="12" height="12" viewBox="0 0 11 11"><path d="M1 5.500h8.500M6 2l3.500 3.500L6 9" fill="none" stroke="#556ee6" stroke-width="1.800"/></svg>
<div class="a" style="left:148.6px;top:291.9px;color:#495057;letter-spacing:.33px">Responded to need "In-Kind Opportunity"</div>
<div class="btn" style="left:224.400px;top:343px;width:76px;height:27px;font-size:11.500px;padding:5px 0">Load More</div>
</div>
<!-- TOP CITIES -->
<div class="card" style="left:1371.300px;top:719px;width:524.700px;height:387.900px">
<div class="ct" style="left:20px;top:20px">Top Cities Selling Product</div>
<svg class="a" style="left:237.400px;top:63px" width="50" height="51" viewBox="0 0 50 51"><g fill="none" stroke="#556ee6" stroke-width="4.800" stroke-linecap="round"><circle cx="25" cy="11" r="7.300"/><path d="M25 18.500v17.500"/><path d="M16 25.500C8 27.500 3.500 31.500 3.500 36c0 6.500 9.500 11.500 21.500 11.500S46.500 42.500 46.500 36c0-4.500-4.500-8.500-12.500-10.500"/></g></svg>
<div class="a" style="left:0;top:140.500px;width:100%;text-align:center;font-size:25.500px;line-height:27px;color:#495057;letter-spacing:-1.100px;-webkit-text-stroke:.4px #495057">1,456</div>
<div class="a" style="left:0;top:176.500px;width:100%;text-align:center;color:#495057;letter-spacing:.2px">San Francisco</div>
<div class="a" style="left:20px;top:220.3px;width:483px;height:1px;background:#eff2f7"></div>
<div class="a" style="left:32px;top:233.1px;color:#495057">San Francisco</div>
<div class="a med" style="left:171.500px;top:233.3px;font-size:16px;line-height:19px;color:#495057;letter-spacing:.1px">1,456</div>
<div class="a" style="left:292px;top:240.3px;width:187.6px;height:5px;border-radius:3px;background:#556ee6"></div>
<div class="a" style="left:20px;top:264.8px;width:483px;height:1px;background:#eff2f7"></div>
<div class="a" style="left:32px;top:277.6px;color:#495057">Los Angeles</div>
<div class="a med" style="left:171.500px;top:277.8px;font-size:16px;line-height:19px;color:#495057;letter-spacing:.1px">1,123</div>
<div class="a" style="left:292px;top:284.8px;width:163.2px;height:5px;border-radius:3px;background:#34c38f"></div>
<div class="a" style="left:20px;top:309.3px;width:483px;height:1px;background:#eff2f7"></div>
<div class="a" style="left:32px;top:322.1px;color:#495057">San Diego</div>
<div class="a med" style="left:171.500px;top:322.3px;font-size:16px;line-height:19px;color:#495057;letter-spacing:.1px">1,026</div>
<div class="a" style="left:292px;top:329.3px;width:139.4px;height:5px;border-radius:3px;background:#f1b44c"></div>
</div>
<!-- LATEST TRANSACTION -->
<div class="card" style="left:274px;top:1132.500px;width:1622px;height:420px">
<div class="ct" style="left:20px;top:20px">Latest Transaction</div>
<div class="a" style="left:20px;top:61.5px;width:1582px;height:46px;background:#f8f9fa;border-top:1px solid #eff2f7;border-bottom:1px solid #eff2f7"></div>
<div class="a" style="left:83.6px;top:75.5px;color:#495057;font-weight:bold;font-size:13.500px;letter-spacing:.45px">Order ID</div>
<div class="a" style="left:256.4px;top:75.5px;color:#495057;font-weight:bold;font-size:13.500px;letter-spacing:.45px">Billing Name</div>
<div class="a" style="left:506px;top:75.5px;color:#495057;font-weight:bold;font-size:13.500px;letter-spacing:.45px">Date</div>
<div class="a" style="left:708.8px;top:75.5px;color:#495057;font-weight:bold;font-size:13.500px;letter-spacing:.45px">Total</div>
<div class="a" style="left:830px;top:75.5px;color:#495057;font-weight:bold;font-size:13.500px;letter-spacing:.45px">Payment Status</div>
<div class="a" style="left:1097.6px;top:75.5px;color:#495057;font-weight:bold;font-size:13.500px;letter-spacing:.45px">Payment Method</div>
<div class="a" style="left:1383.2px;top:75.5px;color:#495057;font-weight:bold;font-size:13.500px;letter-spacing:.45px">View Details</div>
<div class="a" style="left:32px;top:77.0px;width:16px;height:16px;border-radius:4px;border:1.300px solid #adb5bd;background:#fff"></div>
<div class="a" style="left:32px;top:126.0px;width:16px;height:16px;border-radius:4px;border:1.300px solid #adb5bd;background:#fff"></div>
<div class="a" style="left:83.6px;top:124.3px;color:#495057;font-weight:bold;font-size:13.500px;letter-spacing:-.1px">#SK2540</div>
<div class="a" style="left:256.4px;top:124.3px;color:#495057">Neal Matthews</div>
<div class="a" style="left:506px;top:124.3px;color:#495057;letter-spacing:.1px">07 Oct, 2019</div>
<div class="a" style="left:708.8px;top:124.3px;color:#495057;letter-spacing:0">$400</div>
<div class="a" style="left:830px;top:125.5px;height:17px;border-radius:10px;background:#d6f3e9;color:#34c38f;font-size:12px;line-height:17px;padding:0 7px;letter-spacing:.45px">Paid</div>
<svg class="a" style="left:1096.6px;top:127.5px" width="16" height="13" viewBox="0 0 16 13"><rect x=".9" y=".9" width="14.200" height="10" rx="1.500" fill="none" stroke="#495057" stroke-width="2.100"/><path d="M3.500 8.800h9" stroke="#495057" stroke-width="1.800"/></svg>
<div class="a" style="left:1120.1px;top:124.3px;color:#495057">Mastercard</div>
<div class="btn" style="left:1383.2px;top:120.5px;width:87px;height:27px;border-radius:30px;font-size:11.500px;padding:5px 0">View Details</div>
<div class="a" style="left:20px;top:159.5px;width:1582px;height:1px;background:#eff2f7"></div>
<div class="a" style="left:32px;top:178.0px;width:16px;height:16px;border-radius:4px;border:1.300px solid #adb5bd;background:#fff"></div>
<div class="a" style="left:83.6px;top:176.3px;color:#495057;font-weight:bold;font-size:13.500px;letter-spacing:-.1px">#SK2541</div>
<div class="a" style="left:256.4px;top:176.3px;color:#495057">Jamal Burnett</div>
<div class="a" style="left:506px;top:176.3px;color:#495057;letter-spacing:.1px">07 Oct, 2019</div>
<div class="a" style="left:708.8px;top:176.3px;color:#495057;letter-spacing:0">$380</div>
<div class="a" style="left:830px;top:177.5px;height:17px;border-radius:10px;background:#fde1e1;color:#f46a6a;font-size:12px;line-height:17px;padding:0 7px;letter-spacing:.45px">Chargeback</div>
<svg class="a" style="left:1096.6px;top:179.5px" width="16" height="13" viewBox="0 0 16 13"><rect x="0" y=".5" width="16" height="11.500" rx="1.500" fill="#495057"/><path d="M0 4.500h16" stroke="#fff" stroke-width="1.200"/></svg>
<div class="a" style="left:1120.1px;top:176.3px;color:#495057">Visa</div>
<div class="btn" style="left:1383.2px;top:172.5px;width:87px;height:27px;border-radius:30px;font-size:11.500px;padding:5px 0">View Details</div>
<div class="a" style="left:20px;top:211.5px;width:1582px;height:1px;background:#eff2f7"></div>
<div class="a" style="left:32px;top:230.0px;width:16px;height:16px;border-radius:4px;border:1.300px solid #adb5bd;background:#fff"></div>
<div class="a" style="left:83.6px;top:228.3px;color:#495057;font-weight:bold;font-size:13.500px;letter-spacing:-.1px">#SK2542</div>
<div class="a" style="left:256.4px;top:228.3px;color:#495057">Juan Mitchell</div>
<div class="a" style="left:506px;top:228.3px;color:#495057;letter-spacing:.1px">06 Oct, 2019</div>
<div class="a" style="left:708.8px;top:228.3px;color:#495057;letter-spacing:0">$384</div>
<div class="a" style="left:830px;top:229.5px;height:17px;border-radius:10px;background:#d6f3e9;color:#34c38f;font-size:12px;line-height:17px;padding:0 7px;letter-spacing:.45px">Paid</div>
<svg class="a" style="left:1096.6px;top:231.5px" width="16" height="13" viewBox="0 0 16 13"><rect x="0" y=".5" width="16" height="11.500" rx="1.500" fill="#495057"/><path d="M0 3.500h16" stroke="#fff" stroke-width="1"/><path d="M2.500 8.500h6" stroke="#fff" stroke-width="1.200"/></svg>
<div class="a" style="left:1120.1px;top:228.3px;color:#495057">Paypal</div>
<div class="btn" style="left:1383.2px;top:224.5px;width:87px;height:27px;border-radius:30px;font-size:11.500px;padding:5px 0">View Details</div>
<div class="a" style="left:20px;top:263.5px;width:1582px;height:1px;background:#eff2f7"></div>
<div class="a" style="left:32px;top:282.0px;width:16px;height:16px;border-radius:4px;border:1.300px solid #adb5bd;background:#fff"></div>
<div class="a" style="left:83.6px;top:280.3px;color:#495057;font-weight:bold;font-size:13.500px;letter-spacing:-.1px">#SK2543</div>
<div class="a" style="left:256.4px;top:280.3px;color:#495057">Barry Dick</div>
<div class="a" style="left:506px;top:280.3px;color:#495057;letter-spacing:.1px">05 Oct, 2019</div>
<div class="a" style="left:708.8px;top:280.3px;color:#495057;letter-spacing:0">$412</div>
<div class="a" style="left:830px;top:281.5px;height:17px;border-radius:10px;background:#d6f3e9;color:#34c38f;font-size:12px;line-height:17px;padding:0 7px;letter-spacing:.45px">Paid</div>
<svg class="a" style="left:1096.6px;top:283.5px" width="16" height="13" viewBox="0 0 16 13"><rect x=".9" y=".9" width="14.200" height="10" rx="1.500" fill="none" stroke="#495057" stroke-width="2.100"/><path d="M3.500 8.800h9" stroke="#495057" stroke-width="1.800"/></svg>
<div class="a" style="left:1120.1px;top:280.3px;color:#495057">Mastercard</div>
<div class="btn" style="left:1383.2px;top:276.5px;width:87px;height:27px;border-radius:30px;font-size:11.500px;padding:5px 0">View Details</div>
<div class="a" style="left:20px;top:315.5px;width:1582px;height:1px;background:#eff2f7"></div>
<div class="a" style="left:32px;top:334.0px;width:16px;height:16px;border-radius:4px;border:1.300px solid #adb5bd;background:#fff"></div>
<div class="a" style="left:83.6px;top:332.3px;color:#495057;font-weight:bold;font-size:13.500px;letter-spacing:-.1px">#SK2544</div>
<div class="a" style="left:256.4px;top:332.3px;color:#495057">Ronald Taylor</div>
<div class="a" style="left:506px;top:332.3px;color:#495057;letter-spacing:.1px">04 Oct, 2019</div>
<div class="a" style="left:708.8px;top:332.3px;color:#495057;letter-spacing:0">$404</div>
<div class="a" style="left:830px;top:333.5px;height:17px;border-radius:10px;background:#fcf0db;color:#f1b44c;font-size:12px;line-height:17px;padding:0 7px;letter-spacing:.45px">Refund</div>
<svg class="a" style="left:1096.6px;top:335.5px" width="16" height="13" viewBox="0 0 16 13"><rect x="0" y=".5" width="16" height="11.500" rx="1.500" fill="#495057"/><path d="M0 4.500h16" stroke="#fff" stroke-width="1.200"/></svg>
<div class="a" style="left:1120.1px;top:332.3px;color:#495057">Visa</div>
<div class="btn" style="left:1383.2px;top:328.5px;width:87px;height:27px;border-radius:30px;font-size:11.500px;padding:5px 0">View Details</div>
</div>
</div>
</div>
</body>
</html>
